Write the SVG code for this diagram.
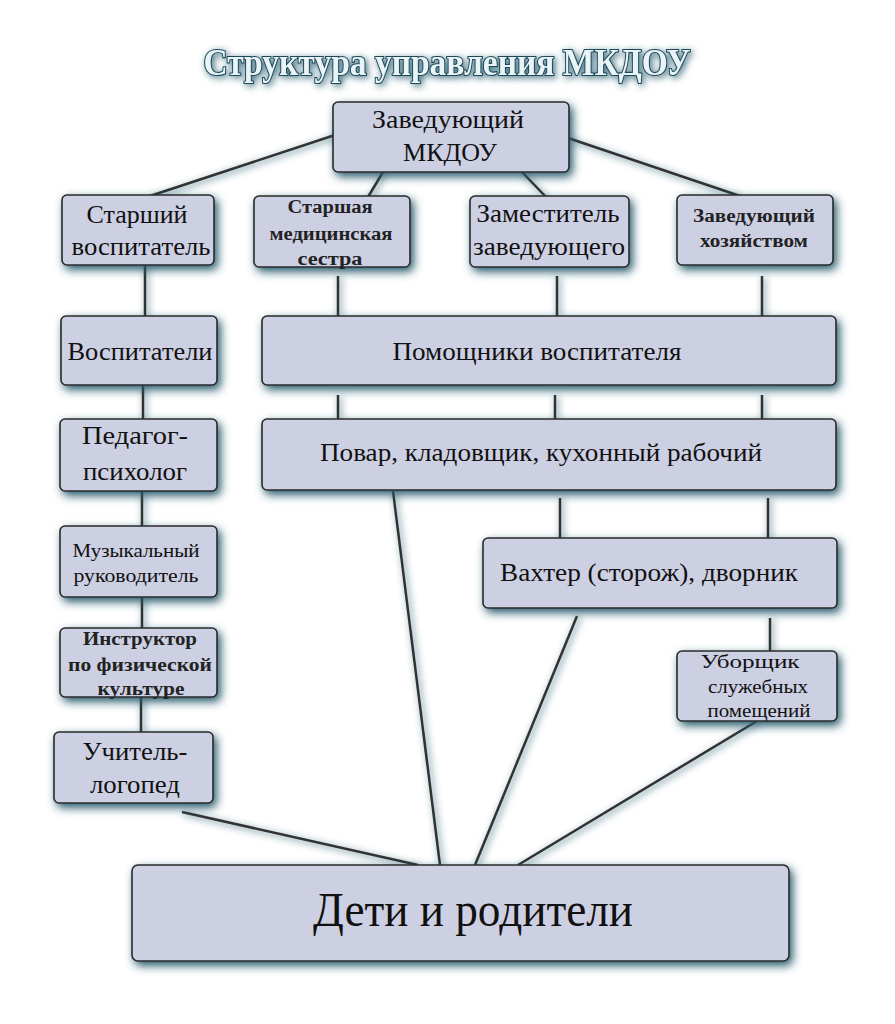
<svg xmlns="http://www.w3.org/2000/svg" width="895" height="1024" viewBox="0 0 895 1024">
<defs>
<filter id="glow" x="-20%" y="-30%" width="140%" height="160%">
<feGaussianBlur in="SourceAlpha" stdDeviation="5" result="b"/>
<feOffset in="b" dx="3" dy="4" result="o"/>
<feFlood flood-color="#245769" flood-opacity="1"/>
<feComposite in2="o" operator="in" result="s"/>
<feMerge><feMergeNode in="s"/><feMergeNode in="SourceGraphic"/></feMerge>
</filter>
<filter id="lglow" x="-50%" y="-50%" width="200%" height="200%">
<feGaussianBlur in="SourceAlpha" stdDeviation="3.5" result="b"/>
<feOffset in="b" dx="2" dy="2" result="o"/>
<feFlood flood-color="#2a5f71" flood-opacity="0.9"/>
<feComposite in2="o" operator="in" result="s"/>
<feMerge><feMergeNode in="s"/><feMergeNode in="SourceGraphic"/></feMerge>
</filter>
</defs>
<style>
.box{fill:#cdd0e3;stroke:#2a2a2a;stroke-width:1.6;filter:url(#glow)}
.t{font-family:"Liberation Serif","Times New Roman",serif;fill:#111;text-anchor:middle}
.r{font-size:25px}
.s{font-size:19px}
.b{font-size:18px;font-weight:bold;fill:#222}
.ln{stroke:#333;stroke-width:2.5;fill:none;stroke-linecap:butt}
.title{font-family:"Liberation Serif","Times New Roman",serif;font-weight:bold;font-size:37px;fill:#eaf3f6;stroke:#1c4a5a;stroke-width:2.2;text-anchor:middle;paint-order:stroke}
</style>
<rect width="895" height="1024" fill="#ffffff"/>
<text class="title" x="447" y="75" textLength="487" lengthAdjust="spacingAndGlyphs" filter="url(#lglow)">Структура управления МКДОУ</text>
<g id="connectors" filter="url(#lglow)">
<line class="ln" x1="335" y1="135" x2="150" y2="196"/>
<line class="ln" x1="383" y1="172" x2="368" y2="197"/>
<line class="ln" x1="522" y1="172" x2="546" y2="197"/>
<line class="ln" x1="568" y1="138" x2="740" y2="196"/>
<line class="ln" x1="145" y1="265" x2="145" y2="316"/>
<line class="ln" x1="143" y1="385" x2="143" y2="419"/>
<line class="ln" x1="142" y1="491" x2="142" y2="526"/>
<line class="ln" x1="142" y1="597" x2="142" y2="628"/>
<line class="ln" x1="141" y1="697" x2="141" y2="732"/>
<line class="ln" x1="338" y1="276" x2="338" y2="316"/>
<line class="ln" x1="557" y1="276" x2="557" y2="316"/>
<line class="ln" x1="762" y1="276" x2="762" y2="316"/>
<line class="ln" x1="338" y1="395" x2="338" y2="419"/>
<line class="ln" x1="555" y1="395" x2="555" y2="419"/>
<line class="ln" x1="762" y1="395" x2="762" y2="419"/>
<line class="ln" x1="560" y1="498" x2="560" y2="538"/>
<line class="ln" x1="768" y1="498" x2="768" y2="538"/>
<line class="ln" x1="770" y1="618" x2="770" y2="651"/>
<line class="ln" x1="182" y1="812" x2="418" y2="865"/>
<line class="ln" x1="393" y1="491" x2="440" y2="865"/>
<line class="ln" x1="577" y1="616" x2="475" y2="865"/>
<line class="ln" x1="757" y1="721" x2="518" y2="865"/>
</g>
<g id="n-head"><rect class="box" x="333" y="102" width="236" height="70" rx="5"/>
<text class="t r" x="448" y="128" textLength="152" lengthAdjust="spacingAndGlyphs">Заведующий</text><text class="t r" x="450" y="161" textLength="94" lengthAdjust="spacingAndGlyphs">МКДОУ</text></g>
<g id="n-senior-edu"><rect class="box" x="62" y="195" width="152" height="70" rx="5"/>
<text class="t r" x="137" y="223" textLength="101" lengthAdjust="spacingAndGlyphs">Старший</text><text class="t r" x="141" y="255" textLength="139" lengthAdjust="spacingAndGlyphs">воспитатель</text></g>
<g id="n-nurse"><rect class="box" x="254" y="196" width="156" height="71" rx="5"/>
<text class="t b" x="330" y="213" textLength="85" lengthAdjust="spacingAndGlyphs">Старшая</text><text class="t b" x="331" y="240" textLength="123" lengthAdjust="spacingAndGlyphs">медицинская</text><text class="t b" x="330" y="265" textLength="65" lengthAdjust="spacingAndGlyphs">сестра</text></g>
<g id="n-deputy"><rect class="box" x="470" y="196" width="159" height="71" rx="5"/>
<text class="t r" x="548" y="222" textLength="143" lengthAdjust="spacingAndGlyphs">Заместитель</text><text class="t r" x="549" y="255" textLength="152" lengthAdjust="spacingAndGlyphs">заведующего</text></g>
<g id="n-household"><rect class="box" x="677" y="195" width="156" height="70" rx="5"/>
<text class="t b" x="754" y="222" textLength="122" lengthAdjust="spacingAndGlyphs">Заведующий</text><text class="t b" x="754" y="247" textLength="108" lengthAdjust="spacingAndGlyphs">хозяйством</text></g>
<g id="n-educators"><rect class="box" x="61" y="316" width="156" height="69" rx="5"/>
<text class="t r" x="140" y="360" textLength="145" lengthAdjust="spacingAndGlyphs">Воспитатели</text></g>
<g id="n-assistants"><rect class="box" x="262" y="316" width="574" height="69" rx="5"/>
<text class="t r" x="537" y="360" textLength="289" lengthAdjust="spacingAndGlyphs">Помощники воспитателя</text></g>
<g id="n-cook"><rect class="box" x="262" y="419" width="574" height="71" rx="5"/>
<text class="t r" x="541" y="461" textLength="442" lengthAdjust="spacingAndGlyphs">Повар, кладовщик, кухонный рабочий</text></g>
<g id="n-psych"><rect class="box" x="60" y="419" width="157" height="72" rx="5"/>
<text class="t r" x="135" y="444" textLength="106" lengthAdjust="spacingAndGlyphs">Педагог-</text><text class="t r" x="135" y="480" textLength="104" lengthAdjust="spacingAndGlyphs">психолог</text></g>
<g id="n-music"><rect class="box" x="60" y="526" width="157" height="71" rx="5"/>
<text class="t s" x="136" y="557" textLength="127" lengthAdjust="spacingAndGlyphs">Музыкальный</text><text class="t s" x="136" y="582" textLength="125" lengthAdjust="spacingAndGlyphs">руководитель</text></g>
<g id="n-phys"><rect class="box" x="60" y="628" width="157" height="69" rx="5"/>
<text class="t b" x="140" y="645" textLength="114" lengthAdjust="spacingAndGlyphs">Инструктор</text><text class="t b" x="140" y="671" textLength="144" lengthAdjust="spacingAndGlyphs">по физической</text><text class="t b" x="141" y="695" textLength="87" lengthAdjust="spacingAndGlyphs">культуре</text></g>
<g id="n-speech"><rect class="box" x="54" y="732" width="159" height="71" rx="5"/>
<text class="t r" x="135" y="760" textLength="105" lengthAdjust="spacingAndGlyphs">Учитель-</text><text class="t r" x="135" y="793" textLength="90" lengthAdjust="spacingAndGlyphs">логопед</text></g>
<g id="n-guard"><rect class="box" x="483" y="538" width="354" height="70" rx="5"/>
<text class="t r" x="649" y="581" textLength="298" lengthAdjust="spacingAndGlyphs">Вахтер (сторож), дворник</text></g>
<g id="n-cleaner"><rect class="box" x="677" y="651" width="160" height="70" rx="5"/>
<text class="t s" x="750" y="668" textLength="99" lengthAdjust="spacingAndGlyphs">Уборщик</text><text class="t s" x="758" y="693" textLength="100" lengthAdjust="spacingAndGlyphs">служебных</text><text class="t s" x="759" y="717" textLength="103" lengthAdjust="spacingAndGlyphs">помещений</text></g>
<g id="n-children"><rect class="box" x="132" y="865" width="657" height="96" rx="6"/>
<text class="t" x="473" y="926" font-size="48" textLength="320" lengthAdjust="spacingAndGlyphs">Дети и родители</text></g>
</svg>
